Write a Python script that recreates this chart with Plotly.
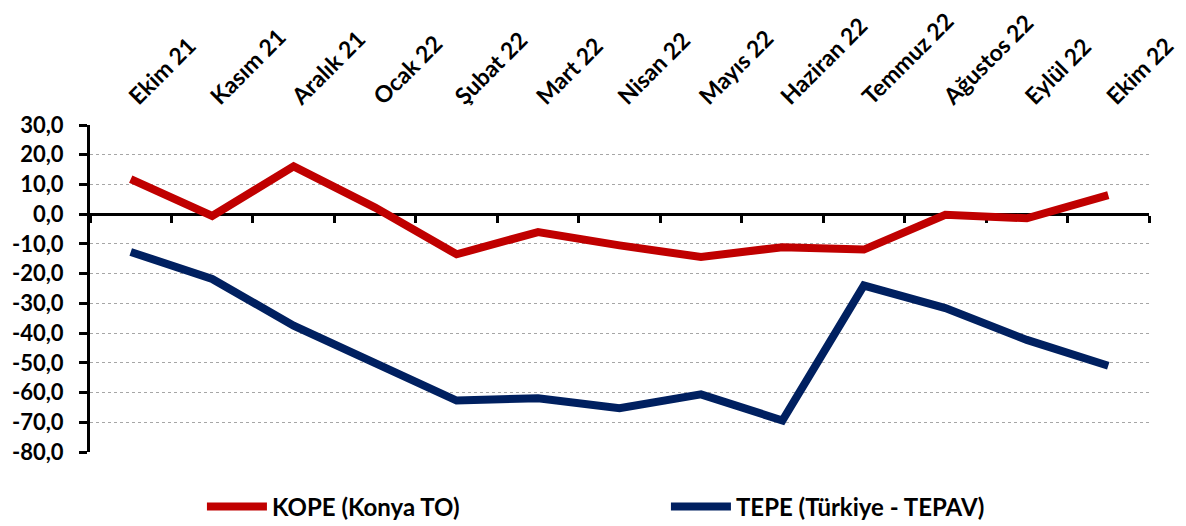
import plotly.graph_objects as go

months = ["Ekim 21", "Kasım 21", "Aralık 21", "Ocak 22", "Şubat 22", "Mart 22",
          "Nisan 22", "Mayıs 22", "Haziran 22", "Temmuz 22", "Ağustos 22",
          "Eylül 22", "Ekim 22"]
kope = [11.8, -0.6, 16.1, 2.2, -13.5, -6.0, -10.5, -14.4, -11.1, -11.9, -0.2, -1.4, 6.4]
tepe = [-12.7, -21.8, -37.5, -49.8, -62.7, -61.9, -65.3, -60.6, -69.4, -24.0, -31.6, -42.3, -51.0]
y_ticks = [30, 20, 10, 0, -10, -20, -30, -40, -50, -60, -70, -80]
y_tick_labels = ["30,0", "20,0", "10,0", "0,0", "-10,0", "-20,0", "-30,0",
                 "-40,0", "-50,0", "-60,0", "-70,0", "-80,0"]

RED = "#C00000"
BLUE = "#002060"
FONT = dict(family="Lato", size=22, color="black", weight="bold")
CAT_FONT = dict(family="Lato", size=23, color="black", weight="bold")
LEG_FONT = dict(family="Lato", size=24, color="black", weight="bold")

fig = go.Figure()
fig.add_trace(go.Scatter(x=months, y=kope, name="KOPE (Konya TO)", mode="lines",
                         line=dict(color=RED, width=8), xaxis="x", yaxis="y"))
fig.add_trace(go.Scatter(x=months, y=tepe, name="TEPE (Türkiye - TEPAV)", mode="lines",
                         line=dict(color=BLUE, width=8), xaxis="x2", yaxis="y"))

# page body has an 8px default margin, so the figure is offset by 8px
fig.update_layout(
    width=1178, height=518,
    margin=dict(l=82, r=37, t=117, b=74, autoexpand=False),
    plot_bgcolor="white", paper_bgcolor="white",
    font=FONT,
    showlegend=True,
    legend=dict(orientation="h", x=0.1057, xanchor="left", y=-0.168, yanchor="middle",
                font=LEG_FONT, entrywidth=389, entrywidthmode="pixels",
                itemwidth=60, bgcolor="rgba(0,0,0,0)"),
    xaxis=dict(type="category", side="top", range=[-0.5, 12.5], tickangle=-45,
               showgrid=False, showline=False, ticks="", zeroline=False,
               tickfont=CAT_FONT, ticklabelstandoff=10,
               categoryorder="array", categoryarray=months),
    xaxis2=dict(type="category", overlaying="x", anchor="free", position=80 / 110,
                side="bottom", range=[-0.5, 12.5], showgrid=False, showline=True,
                linecolor="black", linewidth=3, ticks="outside", ticklen=7,
                tickwidth=3, tickcolor="black", tickson="boundaries",
                showticklabels=False, layer="below traces",
                categoryorder="array", categoryarray=months),
    yaxis=dict(range=[-80, 30], tickvals=y_ticks, ticktext=y_tick_labels,
               showline=True, linecolor="black", linewidth=3, ticks="outside",
               ticklen=8, tickwidth=3, tickcolor="black", showgrid=True,
               gridcolor="#A6A6A6", gridwidth=1, griddash="dot", zeroline=False,
               tickfont=FONT, ticklabelstandoff=11, layer="below traces"),
)

fig.write_html("out.html")
